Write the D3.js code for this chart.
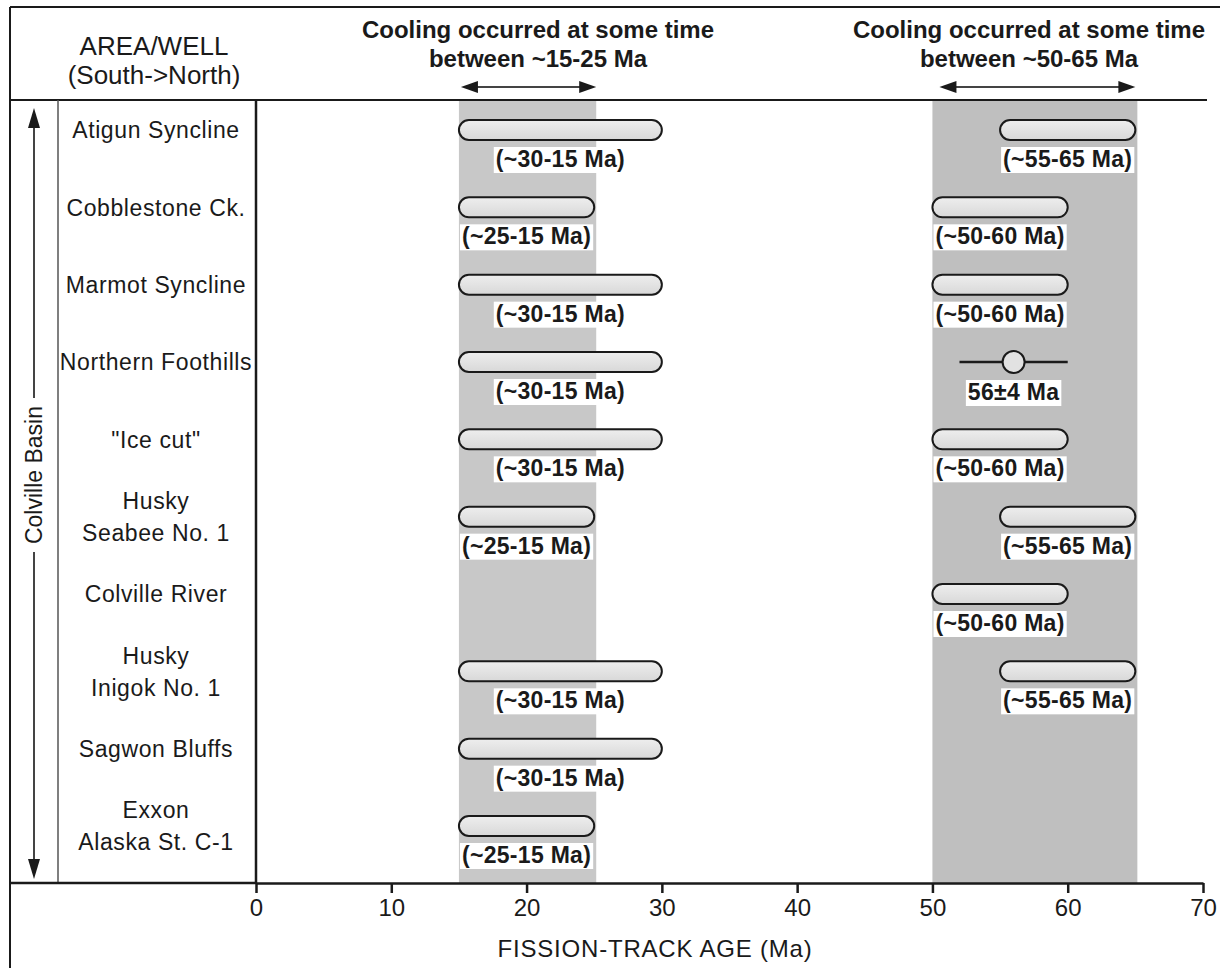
<!DOCTYPE html>
<html>
<head>
<meta charset="utf-8">
<script src="https://cdn.jsdelivr.net/npm/d3@7"></script>
<style>
  html, body { margin: 0; padding: 0; background: #fff; }
  svg { display: block; font-family: "Liberation Sans", Arial, Helvetica, sans-serif; }
</style>
</head>
<body>
<svg id="chart" width="1220" height="968"></svg>
<script>
// ---------- DATA ----------
const rowLabels = ["Atigun Syncline", "Cobblestone Ck.", "Marmot Syncline", "Northern Foothills",
  "\"Ice cut\"", "Husky\nSeabee No. 1", "Colville River", "Husky\nInigok No. 1",
  "Sagwon Bluffs", "Exxon\nAlaska St. C-1"];
const youngStart = [15, 15, 15, 15, 15, 15, null, 15, 15, 15];
const youngEnd   = [30, 25, 30, 30, 30, 25, null, 30, 30, 25];
const youngText  = ["(~30-15 Ma)", "(~25-15 Ma)", "(~30-15 Ma)", "(~30-15 Ma)", "(~30-15 Ma)",
  "(~25-15 Ma)", null, "(~30-15 Ma)", "(~30-15 Ma)", "(~25-15 Ma)"];
const oldStart = [55, 50, 50, null, 50, 55, 50, 55, null, null];
const oldEnd   = [65, 60, 60, null, 60, 65, 60, 65, null, null];
const oldText  = ["(~55-65 Ma)", "(~50-60 Ma)", "(~50-60 Ma)", null, "(~50-60 Ma)",
  "(~55-65 Ma)", "(~50-60 Ma)", "(~55-65 Ma)", null, null];
const pointRows = ["Northern Foothills"];
const pointAges = [56];
const pointErrs = [4];
const pointText = ["56\u00b14 Ma"];
const bandStart = [15, 50];
const bandEnd   = [25, 65];
const bandFill  = ["#c8c8c8", "#bfbfbf"];
const bandTitle1 = ["Cooling occurred at some time", "Cooling occurred at some time"];
const bandTitle2 = ["between ~15-25 Ma", "between ~50-65 Ma"];
const xTicks = [0, 10, 20, 30, 40, 50, 60, 70];
const xTitle = "FISSION-TRACK AGE (Ma)";
const headerLeft = ["AREA/WELL", "(South->North)"];
const basinLabel = "Colville Basin";

// ---------- LAYOUT ----------
const svg = d3.select("#chart");
const X0 = 256, X1 = 1203, TOP = 100, BOT = 883;
const x = d3.scaleLinear().domain([0, 70]).range([X0, X1]);
const y = d3.scalePoint().domain(rowLabels).range([130, 826]);
const ink = "#1a1a1a";

// defs
const defs = svg.append("defs");
const grad = defs.append("linearGradient").attr("id", "barGrad").attr("x1", 0).attr("y1", 0).attr("x2", 0).attr("y2", 1);
grad.append("stop").attr("offset", "0%").attr("stop-color", "#eeeeee");
grad.append("stop").attr("offset", "100%").attr("stop-color", "#d8d8d8");

// shaded bands
svg.append("g").selectAll("rect").data(bandStart).join("rect")
  .attr("x", (d) => x(d))
  .attr("y", TOP)
  .attr("width", (d, i) => x(bandEnd[i]) - x(d) + 2)
  .attr("height", BOT - TOP)
  .attr("fill", (d, i) => bandFill[i]);

// frame lines
const frame = svg.append("g").attr("stroke", ink).attr("fill", "none");
frame.append("line").attr("x1", 10).attr("x2", 1220).attr("y1", 7).attr("y2", 7).attr("stroke-width", 2);
frame.append("line").attr("x1", 10).attr("x2", 10).attr("y1", 7).attr("y2", 968).attr("stroke-width", 2);
frame.append("line").attr("x1", 10).attr("x2", 1207).attr("y1", TOP).attr("y2", TOP).attr("stroke-width", 2);
frame.append("line").attr("x1", 58).attr("x2", 58).attr("y1", TOP).attr("y2", BOT).attr("stroke-width", 1.5).attr("stroke", "#555");
frame.append("line").attr("x1", X0).attr("x2", X0).attr("y1", TOP).attr("y2", BOT).attr("stroke-width", 2.5);
frame.append("line").attr("x1", 10).attr("x2", X0).attr("y1", BOT).attr("y2", BOT).attr("stroke-width", 2.5);

// x axis
const xAxis = d3.axisBottom(x).tickValues(xTicks).tickSize(10).tickPadding(6).tickSizeOuter(0);
const gx = svg.append("g").attr("transform", `translate(0,${BOT})`).call(xAxis);
gx.select(".domain").attr("stroke", ink).attr("stroke-width", 2.5);
gx.selectAll(".tick line").attr("stroke", ink).attr("stroke-width", 2.5);
gx.selectAll(".tick text").attr("fill", ink).style("font-size", "24px").style("font-family", "'Liberation Sans', Arial, sans-serif");
svg.append("text").attr("x", 655).attr("y", 957).attr("text-anchor", "middle")
  .style("font-size", "24px").style("letter-spacing", "0.8px").attr("fill", ink).text(xTitle);

// header
const hdr = svg.append("g").attr("fill", ink).attr("text-anchor", "middle");
hdr.append("text").attr("x", 154).attr("y", 55).style("font-size", "26px").text(headerLeft[0]);
hdr.append("text").attr("x", 154).attr("y", 84).style("font-size", "26px").text(headerLeft[1]);
const bandCenters = [538, 1029];
bandStart.forEach((s, i) => {
  hdr.append("text").attr("x", bandCenters[i]).attr("y", 38).style("font-size", "24px").style("font-weight", "bold").text(bandTitle1[i]);
  hdr.append("text").attr("x", bandCenters[i]).attr("y", 67).style("font-size", "24px").style("font-weight", "bold").text(bandTitle2[i]);
});

// double-headed arrow helper
function hArrow(g, xa, xb, yy) {
  g.append("line").attr("x1", xa + 14).attr("x2", xb - 14).attr("y1", yy).attr("y2", yy)
    .attr("stroke", "#444").attr("stroke-width", 2);
  g.append("path").attr("d", `M${xa},${yy} L${xa + 17},${yy - 6} L${xa + 17},${yy + 6} Z`).attr("fill", ink);
  g.append("path").attr("d", `M${xb},${yy} L${xb - 17},${yy - 6} L${xb - 17},${yy + 6} Z`).attr("fill", ink);
}
const arrows = svg.append("g");
hArrow(arrows, x(bandStart[0]) + 2, x(bandEnd[0]) + 2, 87);
hArrow(arrows, x(bandStart[1]) + 7, x(bandEnd[1]), 87);

// Colville Basin vertical arrow
const basin = svg.append("g");
basin.append("line").attr("x1", 34).attr("x2", 34).attr("y1", 120).attr("y2", 866).attr("stroke", "#444").attr("stroke-width", 2);
basin.append("path").attr("d", "M34,108 L28,128 L40,128 Z").attr("fill", ink);
basin.append("path").attr("d", "M34,879 L28,859 L40,859 Z").attr("fill", ink);
basin.append("rect").attr("x", 22).attr("y", 398).attr("width", 22).attr("height", 154).attr("fill", "#fff");
basin.append("text").attr("transform", "translate(42,475) rotate(-90)").attr("text-anchor", "middle")
  .style("font-size", "23px").attr("fill", ink).text(basinLabel);

// row labels
const rl = svg.append("g").attr("fill", ink).attr("text-anchor", "middle")
  .style("font-size", "23px").style("letter-spacing", "0.6px");
rowLabels.forEach((r) => {
  const lines = r.split("\n");
  const t = rl.append("text").attr("x", 156).attr("y", y(r));
  lines.forEach((ln, k) => {
    t.append("tspan").attr("x", 156)
      .attr("dy", k === 0 ? (0.36 - (lines.length - 1) * 0.7) + "em" : "1.4em")
      .text(ln);
  });
});

// bars
function drawBars(starts, ends, texts) {
  const g = svg.append("g");
  const idx = d3.range(rowLabels.length).filter((i) => starts[i] != null);
  g.selectAll("rect.bar").data(idx).join("rect").attr("class", "bar")
    .attr("x", (i) => x(starts[i]))
    .attr("y", (i) => y(rowLabels[i]) - 10)
    .attr("width", (i) => x(ends[i]) - x(starts[i]))
    .attr("height", 20).attr("rx", 10).attr("ry", 10)
    .attr("fill", "url(#barGrad)").attr("stroke", ink).attr("stroke-width", 2);
  idx.forEach((i) => {
    const cx = (x(starts[i]) + x(ends[i])) / 2;
    labelBox(g, cx, y(rowLabels[i]) + 37, texts[i]);
  });
}
function labelBox(g, cx, by, txt) {
  const bg = g.append("rect").attr("fill", "#fff");
  const t = g.append("text").attr("x", cx).attr("y", by).attr("text-anchor", "middle")
    .style("font-size", "23px").style("font-weight", "bold").style("letter-spacing", "0.3px")
    .attr("fill", ink).text(txt);
  const bb = t.node().getBBox();
  bg.attr("x", bb.x - 2).attr("y", bb.y + 1).attr("width", bb.width + 4).attr("height", bb.height);
}
drawBars(youngStart, youngEnd, youngText);
drawBars(oldStart, oldEnd, oldText);

// point with error bar
const pg = svg.append("g");
pointRows.forEach((r, i) => {
  const yy = y(r);
  pg.append("line").attr("x1", x(pointAges[i] - pointErrs[i])).attr("x2", x(pointAges[i] + pointErrs[i]))
    .attr("y1", yy).attr("y2", yy).attr("stroke", ink).attr("stroke-width", 2.5);
  pg.append("circle").attr("cx", x(pointAges[i])).attr("cy", yy).attr("r", 11)
    .attr("fill", "#e2e2e2").attr("stroke", ink).attr("stroke-width", 2);
  labelBox(pg, x(pointAges[i]), yy + 38, pointText[i]);
});
</script>
</body>
</html>
